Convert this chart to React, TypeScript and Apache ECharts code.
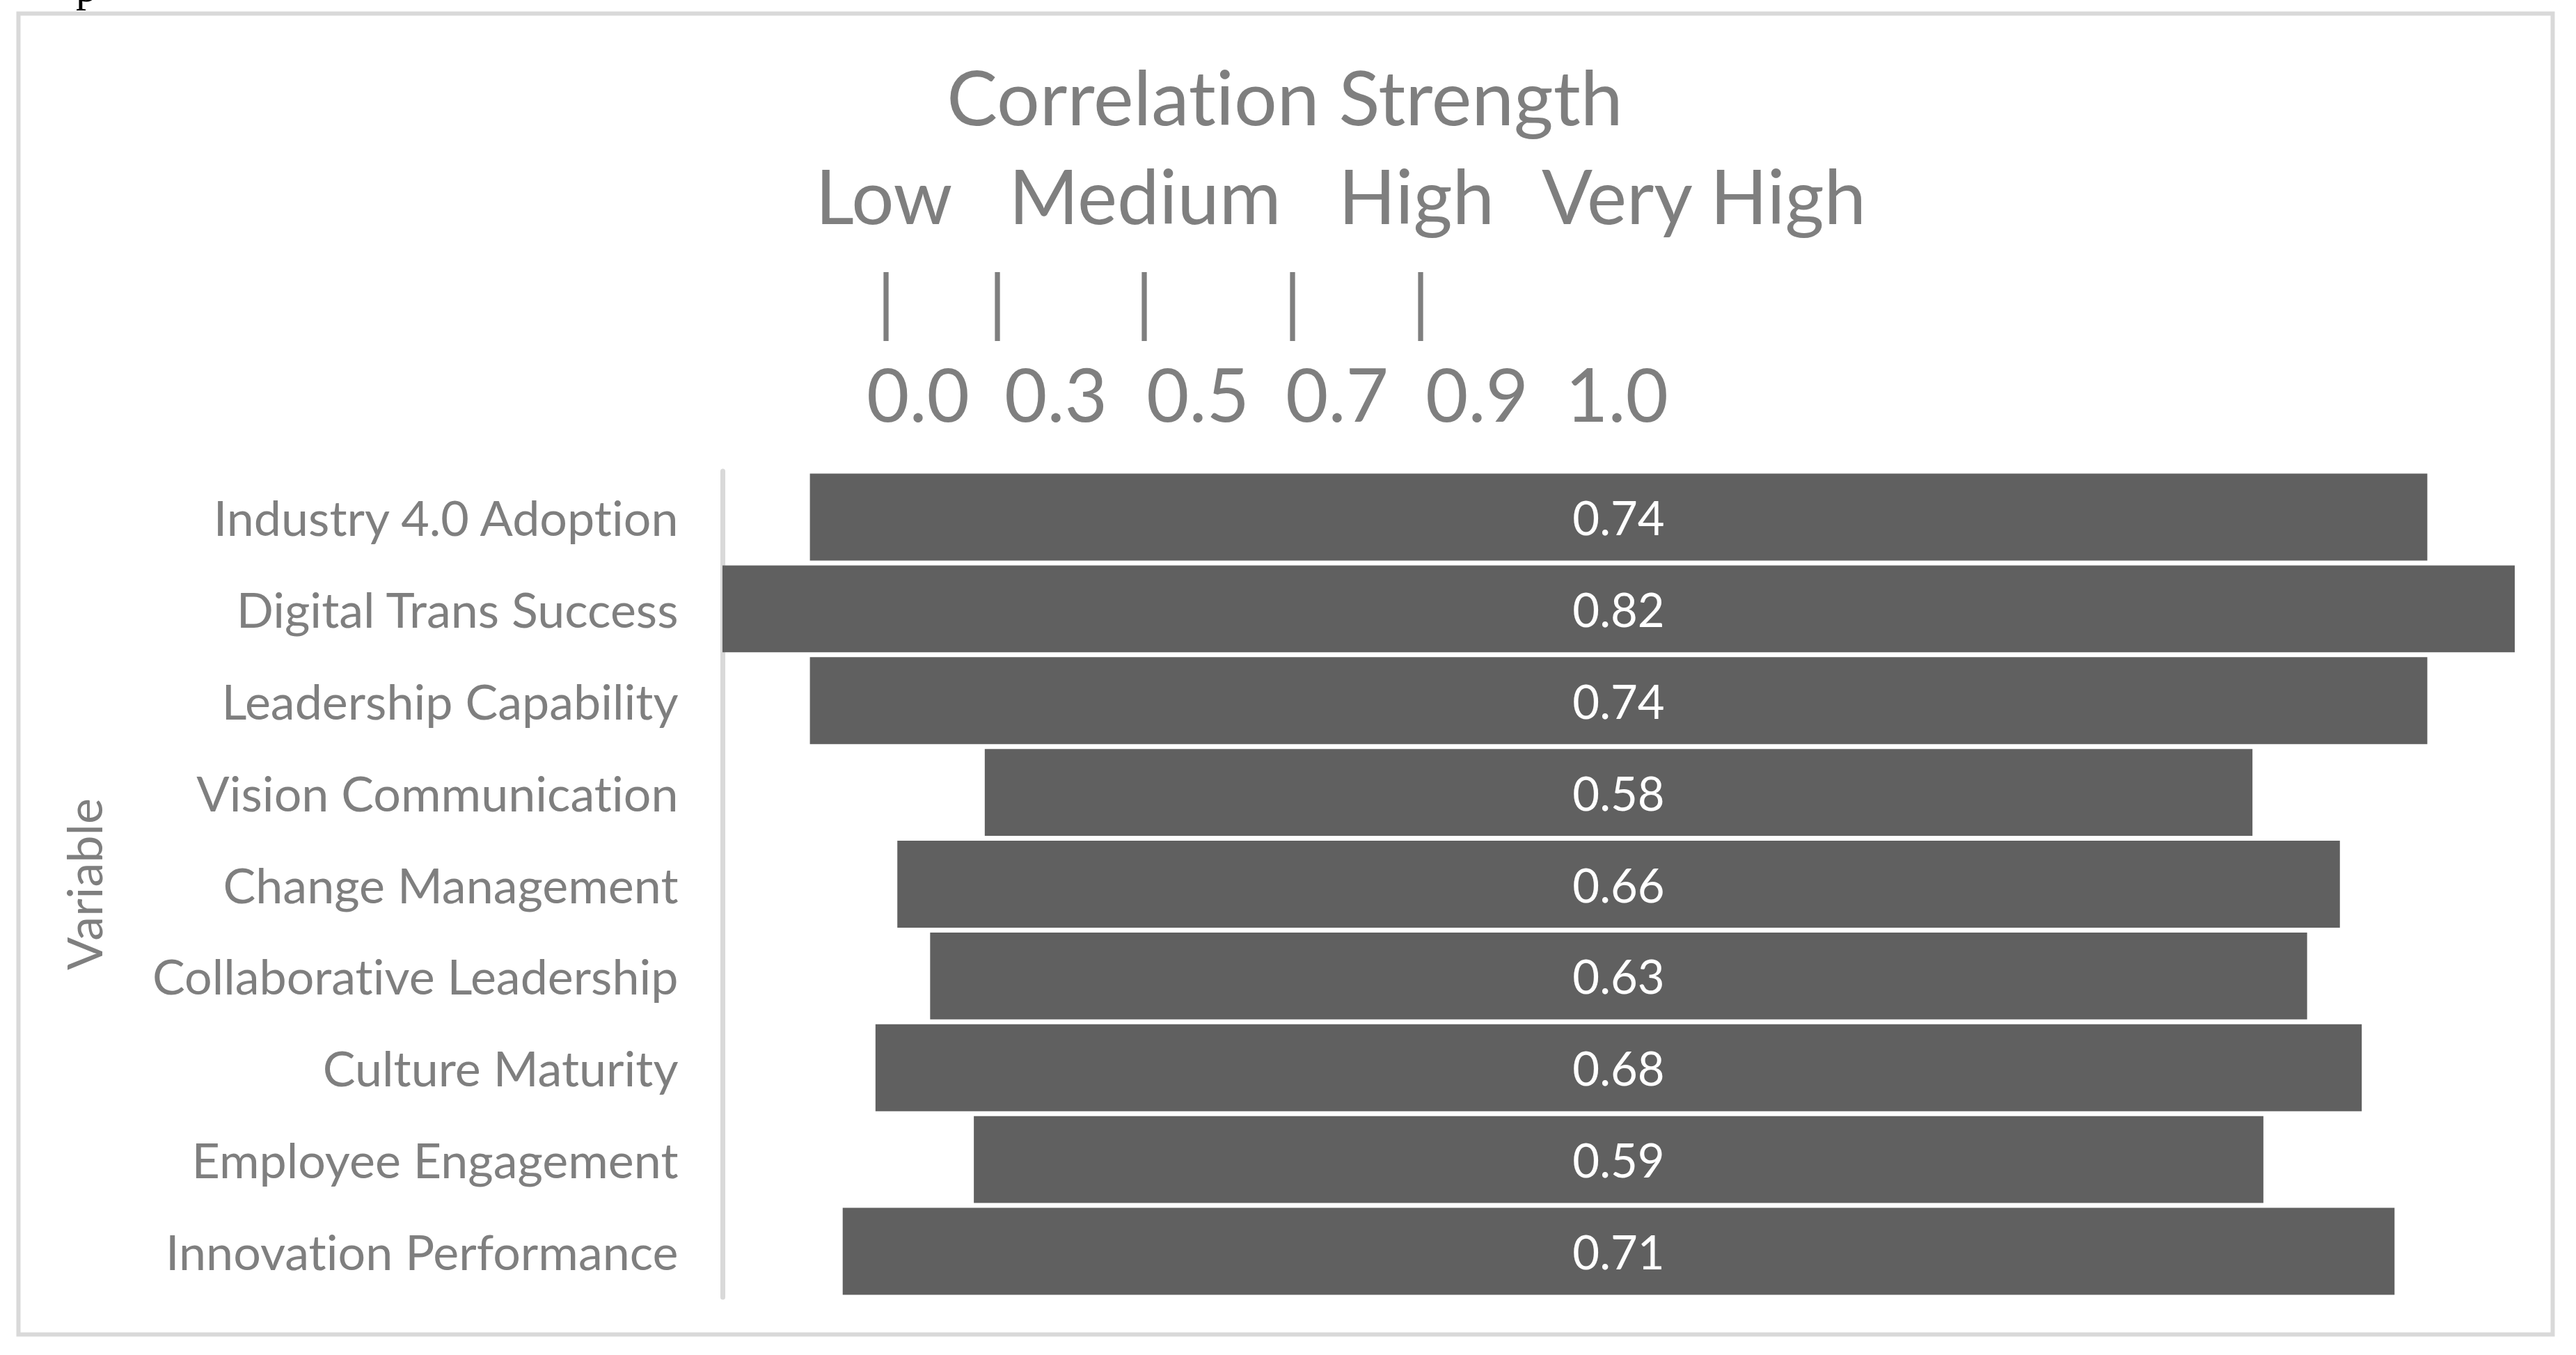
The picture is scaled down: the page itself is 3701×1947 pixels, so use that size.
import React, { useEffect, useRef } from "react";
import * as echarts from "echarts";

// ---- data ----
const categories = [
  "Industry 4.0 Adoption",
  "Digital Trans Success",
  "Leadership Capability",
  "Vision Communication",
  "Change Management",
  "Collaborative Leadership",
  "Culture Maturity",
  "Employee Engagement",
  "Innovation Performance",
];
const values = [0.74, 0.82, 0.74, 0.58, 0.66, 0.63, 0.68, 0.59, 0.71];
const chartTitle = "Correlation Strength";
const strengthLevels = ["Low", "Medium", "High", "Very High"];
const scaleTicks = ["0.0", "0.3", "0.5", "0.7", "0.9", "1.0"];
const scaleMarks = ["|", "|", "|", "|", "|"];
const axisName = "Variable";

// ---- layout (pixels) ----
const W = 3701;
const H = 1947;
const levelX = [1270, 1645, 2035, 2448];
const markX = [1273, 1433, 1644, 1857, 2041];
const tickX = [1319, 1517, 1721, 1921, 2122, 2323];

const FONT = "Lato, 'Noto Sans', sans-serif";
const TEXT_COLOR = "#7F7F7F";
const BAR_COLOR = "#606060";
const LINE_COLOR = "#D9D9D9";

export default function App() {
  const ref = useRef<HTMLDivElement>(null);

  useEffect(() => {
    if (!ref.current) return;
    const chart = echarts.init(ref.current, null, { renderer: "svg", width: W, height: H });
    const maxV = Math.max(...values);
    const offsets = values.map((v) => +((maxV - v) / 2).toFixed(4));

    const txt = (text: string, x: number, y: number, size: number) => ({
      type: "text",
      x,
      y,
      style: {
        text,
        fontSize: size,
        fontFamily: FONT,
        fill: TEXT_COLOR,
        align: "center",
        verticalAlign: "middle",
      },
    });

    const graphic: any[] = [
      {
        type: "rect",
        shape: { x: 26.5, y: 19.5, width: 3641, height: 1898 },
        style: { fill: "none", stroke: LINE_COLOR, lineWidth: 6 },
        z: 0,
      },
      {
        type: "text",
        x: 109,
        y: -18,
        style: {
          text: "p",
          fontSize: 60,
          fontFamily: "'Liberation Serif', serif",
          fill: "#000000",
          align: "left",
          verticalAlign: "middle",
        },
      },
      txt(chartTitle, 1846, 137, 109),
      ...strengthLevels.map((s, i) => txt(s, levelX[i], 280, 108)),
      ...scaleMarks.map((s, i) => txt(s, markX[i], 431, 104)),
      ...scaleTicks.map((s, i) => txt(s, tickX[i], 565, 106)),
    ];

    chart.setOption({
      animation: false,
      backgroundColor: "#FFFFFF",
      grid: { left: 1038, right: 88, top: 677, bottom: 83, containLabel: false },
      xAxis: { type: "value", min: 0, max: maxV, show: false },
      yAxis: {
        type: "category",
        data: categories,
        inverse: true,
        offset: 3.5,
        name: axisName,
        nameLocation: "middle",
        nameGap: 880,
        nameTextStyle: { fontSize: 70, color: TEXT_COLOR, fontFamily: FONT },
        axisLine: { show: true, lineStyle: { color: LINE_COLOR, width: 7 } },
        axisTick: { show: false },
        splitLine: { show: false },
        axisLabel: { fontSize: 70, color: TEXT_COLOR, fontFamily: FONT, margin: 60 },
      },
      series: [
        {
          type: "bar",
          stack: "funnel",
          data: offsets,
          silent: true,
          itemStyle: { color: "rgba(0,0,0,0)" },
          barCategoryGap: "5.3%",
        },
        {
          type: "bar",
          stack: "funnel",
          data: values,
          barCategoryGap: "5.3%",
          itemStyle: { color: BAR_COLOR },
          label: {
            show: true,
            position: "inside",
            color: "#FFFFFF",
            fontSize: 67,
            fontFamily: FONT,
            formatter: (p: any) => Number(p.value).toFixed(2),
          },
        },
      ],
      graphic,
    });
    return () => chart.dispose();
  }, []);

  return (
    <div
      ref={ref}
      style={{
        position: "absolute",
        left: 0,
        top: 0,
        width: W,
        height: H,
        background: "#fff",
        fontVariantLigatures: "none",
        fontFeatureSettings: '"liga" 0, "clig" 0',
      }}
    />
  );
}
